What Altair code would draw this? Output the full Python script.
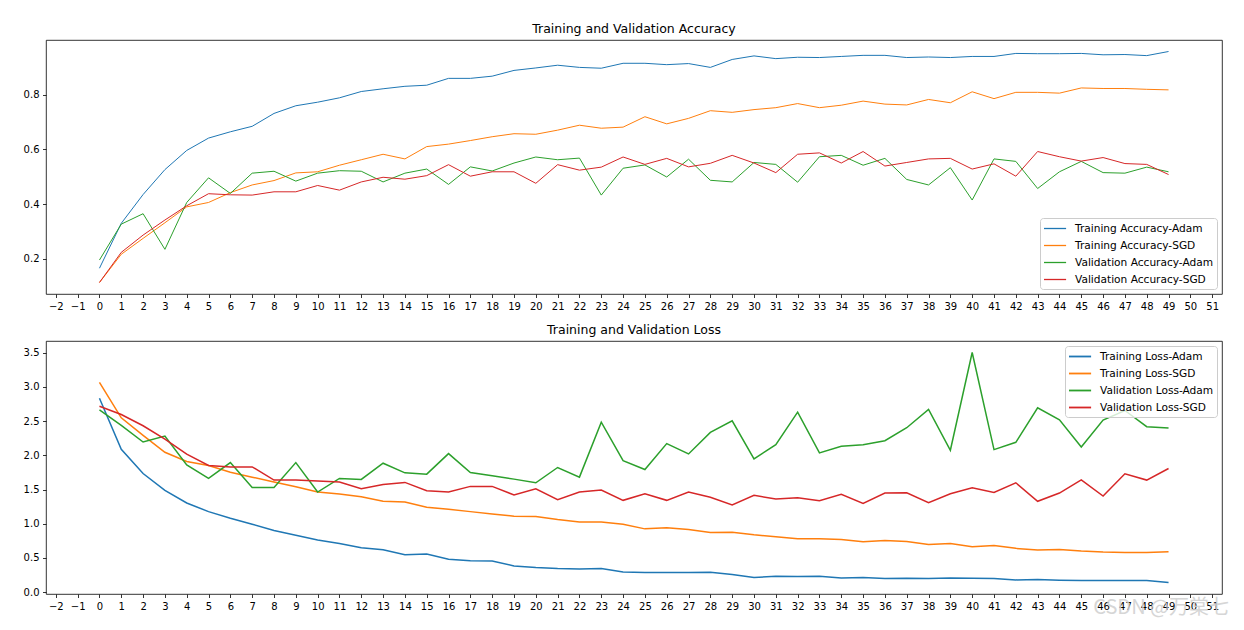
import altair as alt
import pandas as pd

epochs = list(range(50))
x_ticks = list(range(-2, 52))

acc_train_adam = [0.166, 0.330, 0.435, 0.526, 0.596, 0.641, 0.664, 0.684, 0.731, 0.759,
                  0.772, 0.788, 0.811, 0.821, 0.830, 0.834, 0.859, 0.859, 0.867, 0.888,
                  0.897, 0.907, 0.899, 0.896, 0.914, 0.914, 0.909, 0.913, 0.899, 0.928,
                  0.941, 0.931, 0.936, 0.935, 0.939, 0.943, 0.943, 0.935, 0.937, 0.935,
                  0.939, 0.939, 0.950, 0.949, 0.949, 0.950, 0.945, 0.946, 0.942, 0.957]
acc_train_sgd = [0.114, 0.217, 0.275, 0.332, 0.390, 0.406, 0.442, 0.470, 0.486, 0.514,
                 0.518, 0.542, 0.562, 0.582, 0.565, 0.610, 0.619, 0.632, 0.646, 0.657,
                 0.655, 0.670, 0.688, 0.677, 0.681, 0.719, 0.693, 0.713, 0.741, 0.735,
                 0.745, 0.752, 0.767, 0.752, 0.761, 0.776, 0.765, 0.762, 0.782, 0.770,
                 0.810, 0.785, 0.808, 0.808, 0.805, 0.824, 0.822, 0.822, 0.819, 0.817]
acc_val_adam = [0.196, 0.327, 0.365, 0.235, 0.406, 0.496, 0.439, 0.513, 0.520, 0.484,
                0.513, 0.522, 0.520, 0.481, 0.513, 0.528, 0.472, 0.536, 0.521, 0.550,
                0.572, 0.562, 0.568, 0.433, 0.531, 0.543, 0.499, 0.564, 0.487, 0.481,
                0.552, 0.545, 0.480, 0.573, 0.578, 0.542, 0.567, 0.490, 0.470, 0.533,
                0.415, 0.565, 0.556, 0.457, 0.518, 0.556, 0.515, 0.513, 0.535, 0.518]
acc_val_sgd = [0.114, 0.224, 0.287, 0.342, 0.394, 0.438, 0.434, 0.433, 0.445, 0.445,
               0.468, 0.451, 0.481, 0.498, 0.491, 0.504, 0.544, 0.502, 0.518, 0.518,
               0.476, 0.544, 0.524, 0.535, 0.572, 0.545, 0.567, 0.536, 0.549, 0.578,
               0.550, 0.515, 0.582, 0.587, 0.550, 0.592, 0.539, 0.552, 0.565, 0.567,
               0.528, 0.547, 0.502, 0.592, 0.573, 0.557, 0.570, 0.548, 0.545, 0.508]

loss_train_adam = [2.834, 2.088, 1.734, 1.487, 1.303, 1.177, 1.080, 0.993, 0.901, 0.833,
                   0.761, 0.712, 0.649, 0.620, 0.547, 0.557, 0.480, 0.460, 0.455, 0.383,
                   0.359, 0.344, 0.339, 0.344, 0.296, 0.286, 0.286, 0.286, 0.291, 0.257,
                   0.213, 0.233, 0.228, 0.233, 0.208, 0.213, 0.199, 0.203, 0.199, 0.208,
                   0.203, 0.199, 0.179, 0.184, 0.174, 0.170, 0.170, 0.170, 0.170, 0.141]
loss_train_sgd = [3.067, 2.548, 2.292, 2.045, 1.909, 1.851, 1.754, 1.681, 1.609, 1.541,
                  1.463, 1.434, 1.395, 1.328, 1.318, 1.240, 1.211, 1.177, 1.143, 1.110,
                  1.105, 1.061, 1.027, 1.027, 0.993, 0.925, 0.940, 0.916, 0.872, 0.877,
                  0.838, 0.809, 0.780, 0.780, 0.770, 0.736, 0.756, 0.741, 0.698, 0.712,
                  0.664, 0.683, 0.640, 0.615, 0.625, 0.601, 0.586, 0.581, 0.581, 0.591]
loss_val_adam = [2.665, 2.437, 2.195, 2.282, 1.860, 1.662, 1.894, 1.531, 1.531, 1.894,
                 1.463, 1.662, 1.647, 1.885, 1.744, 1.725, 2.025, 1.749, 1.701, 1.652,
                 1.599, 1.822, 1.681, 2.485, 1.923, 1.793, 2.171, 2.020, 2.335, 2.505,
                 1.948, 2.156, 2.631, 2.035, 2.132, 2.156, 2.214, 2.403, 2.670, 2.074,
                 3.503, 2.083, 2.190, 2.694, 2.519, 2.122, 2.515, 2.655, 2.418, 2.398]
loss_val_sgd = [2.718, 2.597, 2.432, 2.238, 2.016, 1.851, 1.831, 1.831, 1.638, 1.638,
                1.623, 1.609, 1.512, 1.575, 1.604, 1.483, 1.463, 1.546, 1.546, 1.420,
                1.512, 1.352, 1.463, 1.492, 1.342, 1.439, 1.342, 1.463, 1.386, 1.274,
                1.415, 1.361, 1.381, 1.337, 1.429, 1.298, 1.449, 1.453, 1.308, 1.439,
                1.526, 1.458, 1.599, 1.328, 1.449, 1.642, 1.405, 1.730, 1.638, 1.807]

acc_names = ["Training Accuracy-Adam", "Training Accuracy-SGD",
             "Validation Accuracy-Adam", "Validation Accuracy-SGD"]
loss_names = ["Training Loss-Adam", "Training Loss-SGD",
              "Validation Loss-Adam", "Validation Loss-SGD"]
colors = ["#1f77b4", "#ff7f0e", "#2ca02c", "#d62728"]
acc_ticks = [0.2, 0.4, 0.6, 0.8]
loss_ticks = [0.0, 0.5, 1.0, 1.5, 2.0, 2.5, 3.0, 3.5]
watermark = "CSDN @万棠七"

FONT = "DejaVu Sans"


def long_df(names, series):
    rows = []
    for i, (n, s) in enumerate(zip(names, series)):
        for e, v in zip(epochs, s):
            rows.append({"epoch": e, "value": v, "series": n, "k": i})
    return pd.DataFrame(rows)


def panel(df, names, title, ydomain, yticks, sw, orient, height):
    legend = alt.Legend(
        title=None, orient=orient, offset=5,
        fillColor="rgba(255,255,255,0.8)", strokeColor="#cccccc", cornerRadius=3,
        padding=3, labelFontSize=10.6, labelFont=FONT, labelColor="black",
        symbolType="M-1,0L2.4,0", symbolSize=169, symbolStrokeWidth=sw + 0.3,
        labelOffset=17, rowPadding=3, labelLimit=400,
    )
    return alt.Chart(df).mark_line(strokeWidth=sw).encode(
        x=alt.X("epoch:Q",
                scale=alt.Scale(domain=[-2.45, 51.45], nice=False, zero=False),
                axis=alt.Axis(values=x_ticks, title=None, format="d",
                              labelOverlap=False, labelFlush=False)),
        y=alt.Y("value:Q",
                scale=alt.Scale(domain=ydomain, nice=False, zero=False),
                axis=alt.Axis(values=yticks, title=None, format=".1f",
                              minExtent=37, maxExtent=37)),
        color=alt.Color("series:N", sort=names,
                        scale=alt.Scale(domain=names, range=colors),
                        legend=legend),
        order=alt.Order("k:Q"),
    ).properties(
        width=1176, height=height,
        title=alt.TitleParams(title, fontSize=12.5, font=FONT, fontWeight="normal",
                              color="black", offset=-8, baseline="bottom"),
    )


acc_chart = panel(long_df(acc_names, [acc_train_adam, acc_train_sgd, acc_val_adam, acc_val_sgd]),
                  acc_names, "Training and Validation Accuracy",
                  [0.072, 0.999], acc_ticks, 1.0, "bottom-right", 254)

loss_lines = panel(long_df(loss_names, [loss_train_adam, loss_train_sgd, loss_val_adam, loss_val_sgd]),
                   loss_names, "Training and Validation Loss",
                   [-0.027, 3.671], loss_ticks, 1.5, "top-right", 253)

wm = alt.Chart(pd.DataFrame({"t": [watermark]})).mark_text(
    align="right", baseline="middle", fontSize=20, font="Noto Sans CJK SC",
    color="#cfcfcf", opacity=0.85,
).encode(text="t:N", x=alt.value(1183), y=alt.value(267))

loss_chart = alt.layer(loss_lines, wm)

chart = alt.vconcat(acc_chart, loss_chart, spacing=11).resolve_scale(
    color="independent"
).resolve_legend(
    color="independent"
).properties(
    padding={"left": 0, "top": 14, "right": 0, "bottom": 0},
    background="white",
).configure_view(
    stroke="black", strokeWidth=0.8,
).configure_axis(
    domain=False, grid=False, tickColor="black", tickWidth=0.8, tickSize=3.5,
    labelColor="black", labelFont=FONT, labelFontSize=10, labelPadding=3.5,
)

chart.save("out.html", embed_options={"renderer": "svg", "actions": False})
